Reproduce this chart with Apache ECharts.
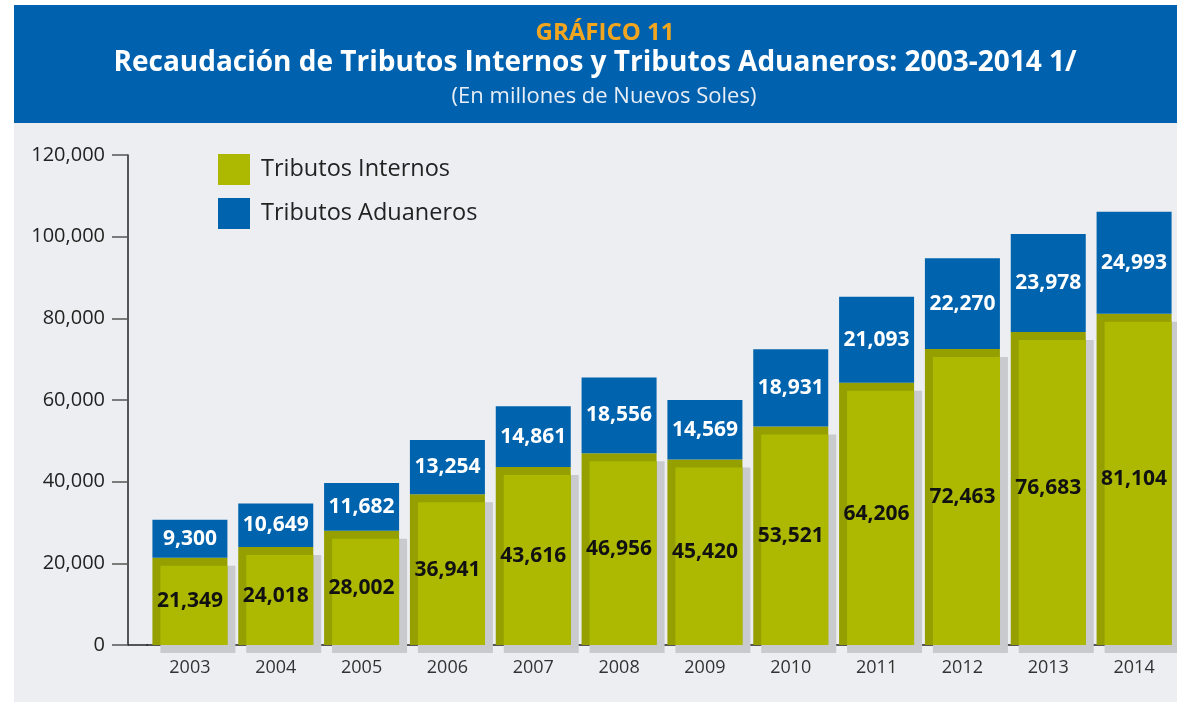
<!DOCTYPE html>
<html>
<head>
<meta charset="utf-8">
<script src="https://cdn.jsdelivr.net/npm/echarts@6/dist/echarts.min.js"></script>
<style>
  html, body { margin: 0; padding: 0; background: #fff; }
  #container1 { width: 1177px; height: 702px; }
</style>
</head>
<body>
<div id="container1"></div>
<script>
var years = ['2003', '2004', '2005', '2006', '2007', '2008', '2009', '2010', '2011', '2012', '2013', '2014'];
var internos = [21349, 24018, 28002, 36941, 43616, 46956, 45420, 53521, 64206, 72463, 76683, 81104];
var aduaneros = [9300, 10649, 11682, 13254, 14861, 18556, 14569, 18931, 21093, 22270, 23978, 24993];
var yTicks = [0, 20000, 40000, 60000, 80000, 100000, 120000];

var FONT = '"Open Sans", "DejaVu Sans", sans-serif';
var BAR_W = 75;
var fmt = function (v) { return Number(v).toLocaleString('en-US'); };

var myChart = echarts.init(document.getElementById('container1'));
var option = {
    animation: false,
    textStyle: { fontFamily: FONT },
    graphic: [
        // fondo gris del grafico y banda azul del titulo
        { type: 'rect', z: -10, shape: { x: 14, y: 123, width: 1163, height: 579 }, style: { fill: '#eceef1' } },
        { type: 'rect', z: -10, shape: { x: 14, y: 5, width: 1163, height: 118 }, style: { fill: '#0062ae' } },
        { type: 'text', x: 605, y: 33, style: { text: 'GRÁFICO 11', fill: '#f2a51f', font: 'bold 24px ' + FONT, align: 'center', verticalAlign: 'middle' } },
        { type: 'text', x: 595, y: 63, style: { text: 'Recaudación de Tributos Internos y Tributos Aduaneros: 2003-2014 1/', fill: '#ffffff', font: 'bold 28px ' + FONT, align: 'center', verticalAlign: 'middle' } },
        { type: 'text', x: 604, y: 97, style: { text: '(En millones de Nuevos Soles)', fill: '#e8eef6', font: '22px ' + FONT, align: 'center', verticalAlign: 'middle' } },
        // tramo del eje x hasta el eje y
        { type: 'line', shape: { x1: 128, y1: 645, x2: 148, y2: 645 }, style: { stroke: '#222', lineWidth: 1.5 } }
    ],
    legend: {
        orient: 'vertical',
        left: 218,
        top: 154,
        padding: 0,
        icon: 'rect',
        itemWidth: 32,
        itemHeight: 31,
        itemGap: 13,
        textStyle: { fontSize: 23.5, color: '#222', padding: [0, 0, 0, 6] },
        data: [
            { name: 'Tributos Internos', itemStyle: { color: '#adb900' } },
            { name: 'Tributos Aduaneros', itemStyle: { color: '#0063ae' } }
        ]
    },
    grid: { left: 147, width: 1035, top: 155, height: 490 },
    xAxis: {
        type: 'category',
        data: years,
        axisLine: { lineStyle: { color: '#222', width: 1.5 } },
        axisTick: {
            length: 32,
            lineStyle: { color: '#666', width: 1.5 },
            interval: function (index) { return index > 0; }
        },
        axisLabel: { fontSize: 18, color: '#333', margin: 14 }
    },
    yAxis: {
        type: 'value',
        min: yTicks[0],
        max: yTicks[yTicks.length - 1],
        interval: yTicks[1] - yTicks[0],
        offset: 19,
        axisLine: { show: true, lineStyle: { color: '#222', width: 1.5 } },
        axisTick: { show: true, length: 16, lineStyle: { color: '#555', width: 1.5 } },
        axisLabel: { fontSize: 20, color: '#222', margin: 23, formatter: fmt },
        splitLine: { show: false }
    },
    series: [
        {
            name: 'Tributos Internos',
            type: 'bar',
            stack: 'total',
            barWidth: BAR_W,
            data: internos,
            itemStyle: {
                color: '#959f00',
                shadowColor: '#c8cacd',
                shadowBlur: 0,
                shadowOffsetX: 8,
                shadowOffsetY: 8
            }
        },
        {
            name: 'Tributos Aduaneros',
            type: 'bar',
            stack: 'total',
            barWidth: BAR_W,
            data: aduaneros,
            itemStyle: { color: '#0063ae' },
            label: {
                show: true,
                position: 'inside',
                color: '#fff',
                fontWeight: 'bold',
                fontSize: 21,
                formatter: function (p) { return fmt(p.value); }
            }
        },
        {
            // cara clara de la barra verde (deja el borde oscuro arriba y a la izquierda)
            name: 'cara',
            type: 'custom',
            z: 3,
            data: years.map(function (y, i) { return [i, internos[i]]; }),
            renderItem: function (params, api) {
                var top = api.coord([api.value(0), api.value(1)]);
                var base = api.coord([api.value(0), 0]);
                var x0 = top[0] - BAR_W / 2;
                return {
                    type: 'group',
                    children: [
                        {
                            type: 'rect',
                            shape: { x: x0 + 8, y: top[1] + 8, width: BAR_W - 8, height: base[1] - top[1] - 8 },
                            style: { fill: '#adb900' }
                        },
                        {
                            type: 'text',
                            x: top[0],
                            y: (top[1] + base[1]) / 2,
                            style: {
                                text: fmt(api.value(1)),
                                fill: '#111',
                                font: 'bold 21px ' + FONT,
                                align: 'center',
                                verticalAlign: 'middle'
                            }
                        }
                    ]
                };
            }
        }
    ]
};
myChart.setOption(option);
</script>
</body>
</html>
